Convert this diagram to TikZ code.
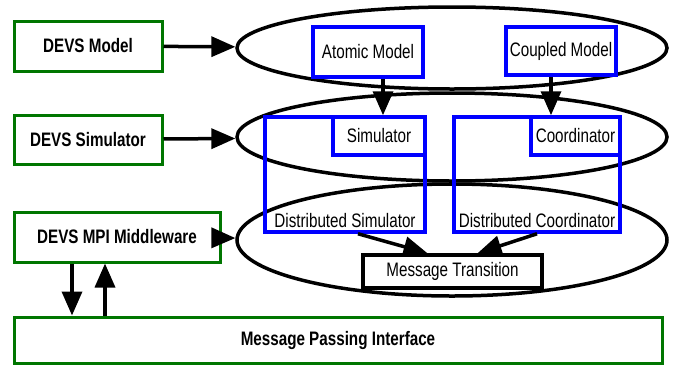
\documentclass[tikz,border=0pt]{standalone}
\usepackage{fontspec}
\setmainfont{Liberation Sans}[FakeStretch=0.78]
\usetikzlibrary{arrows.meta,positioning,shapes.geometric}
\definecolor{boxgreen}{RGB}{0,118,0}
\definecolor{boxblue}{RGB}{0,0,255}
\newcommand{\labelsize}{\fontsize{19.5}{22}\selectfont}
\tikzset{
  greenbox/.style={draw=boxgreen, line width=3pt, inner sep=0pt, font=\labelsize\bfseries},
  bluebox/.style={draw=boxblue, line width=3.5pt, inner sep=0pt},
  ring/.style={draw, ellipse, line width=3.5pt, inner sep=0pt},
  arr/.style={line width=3.5pt, -{Triangle[length=24pt,width=20pt]}},
}
\begin{document}
\begin{tikzpicture}[x=1pt, y=-1pt, font=\labelsize]
  \useasboundingbox (0,0) rectangle (676,365);
  % layers
  \node[ring, minimum width=430pt, minimum height=82pt] (elltop) at (452,48) {};
  \node[ring, minimum width=430pt, minimum height=88pt] (ellmid) at (452,137) {};
  \node[ring, minimum width=430pt, minimum height=112pt] (ellbot) at (452,240) {};
  % left column
  \node[greenbox, minimum width=148pt, minimum height=50pt] (dmodel) at (88,46) {DEVS Model};
  \node[greenbox, minimum width=148pt, minimum height=49pt] (dsimu) at (88,139.5) {DEVS Simulator};
  \node[greenbox, minimum width=206pt, minimum height=50pt] (mpi) at (117,237) {DEVS MPI Middleware};
  \node[greenbox, minimum width=648pt, minimum height=46pt] (mpiface) at (338,340) {Message Passing Interface};
  % blue boxes
  \node[bluebox, minimum width=110pt, minimum height=50pt] (atomic) at (368,52) {Atomic Model};
  \node[bluebox, minimum width=110pt, minimum height=48pt] (coupled) at (561,51) {Coupled Model};
  \node[bluebox, minimum width=160pt, minimum height=115pt] (dsim) at (345,174.5) {};
  \node[bluebox, minimum width=166pt, minimum height=115pt] (dcoord) at (537,174.5) {};
  \node[bluebox, minimum width=92pt, minimum height=38pt] (sim) at (379,136) {Simulator};
  \node[bluebox, minimum width=89pt, minimum height=38pt] (coord) at (575.5,136) {Coordinator};
  \node[above=3pt of dsim.south] (dsimtxt) {Distributed Simulator};
  \node[above=3pt of dcoord.south] (dcoordtxt) {Distributed Coordinator};
  \node[draw, fill=white, line width=3.5pt, inner sep=0pt,
        minimum width=179pt, minimum height=33pt] (msgtr) at (452.5,271.5) {Message Transition};
  % arrows
  \draw[arr] (dmodel) -- (elltop);
  \draw[arr] (dsimu) -- (ellmid);
  \draw[arr] (mpi) -- (ellbot);
  \draw[arr] ([xshift=15pt]atomic.south) -- ([xshift=15pt]atomic.south |- sim.north);
  \draw[arr] ([xshift=-10pt]coupled.south) -- ([xshift=-10pt]coupled.south |- coord.north);
  \draw[arr] ([xshift=13pt]dsim.south) -- ([xshift=-25pt]msgtr.north);
  \draw[arr] (dcoord.south) -- ([xshift=25pt]msgtr.north);
  \draw[arr] ([xshift=-45pt]mpi.south) -- ([xshift=-45pt]mpi.south |- mpiface.north);
  \draw[arr] ([xshift=-12pt]mpi.south |- mpiface.north) -- ([xshift=-12pt]mpi.south);
\end{tikzpicture}
\end{document}
